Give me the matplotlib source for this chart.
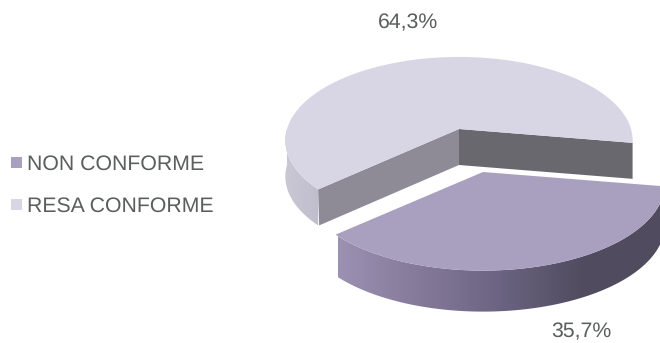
import numpy as np
import matplotlib
matplotlib.use("Agg")
import matplotlib.pyplot as plt
from matplotlib.colors import LinearSegmentedColormap
from matplotlib.patches import Polygon, Rectangle

categories = ["NON CONFORME", "RESA CONFORME"]
values = [35.7, 64.3]

plt.rcParams["font.family"] = ["Liberation Sans", "DejaVu Sans"]
plt.rcParams["text.hinting"] = "none"
TEXT = "#5a5e5d"
K = 0.138  # fake perspective: near side of the disc is drawn larger


def rim(theta_deg, cx, cy, rx, ry, dz=0):
    t = np.radians(theta_deg)
    w = 1 + K * np.sin(t)
    return np.column_stack([cx + rx * np.cos(t) / w, cy - ry * np.sin(t) / w + dz])


def gradient_fill(ax, poly, colors, x0, x1, y0, y1, zorder):
    cmap = LinearSegmentedColormap.from_list("wall", colors)
    img = ax.imshow(np.linspace(0, 1, 256)[None, :], cmap=cmap, extent=(x0, x1, y1, y0),
                    aspect="auto", zorder=zorder)
    patch = Polygon(poly, closed=True, transform=ax.transData, fc="none", ec="none")
    ax.add_patch(patch)
    img.set_clip_path(patch)


fig = plt.figure(figsize=(6.6, 3.43), dpi=100)
ax = fig.add_axes([0, 0, 1, 1])

start = -9.5
split = start - 360 * values[0] / sum(values)  # left edge of the pulled-out slice

# back slice
cx, cy, rx, ry, depth = 459, 129, 172, 82, 36
angles = np.linspace(start, split + 360, 240)
top = rim(angles, cx, cy, rx, ry)
right_corner = rim(start, cx, cy, rx, ry)[0]
left_corner = rim(split, cx, cy, rx, ry)[0]

side = np.linspace(180, split + 360, 60)
gradient_fill(ax, np.vstack([rim(side, cx, cy, rx, ry), rim(side[::-1], cx, cy, rx, ry, depth)]),
              ["#cbc8d6", "#bfbccb"], 285, 322, 130, 225, 1)
ax.add_patch(Polygon([(cx, cy), left_corner, left_corner + (1, depth), (cx, cy + depth)],
                     fc="#8e8b96", ec="none", zorder=2))
ax.add_patch(Polygon([(cx, cy), right_corner, right_corner + (0, depth), (cx, cy + depth)],
                     fc="#6a686f", ec="none", zorder=2))
ax.add_patch(Polygon(np.vstack([[(cx, cy)], top]), fc="#d8d6e4", ec="none", zorder=3))

# pulled-out slice
cx, cy, rx, ry, depth = 483, 172, 180, 85, 41
angles = np.linspace(split, start, 200)
top = rim(angles, cx, cy, rx, ry)
gradient_fill(ax, np.vstack([top, rim(angles[::-1], cx, cy, rx, ry, depth)]),
              ["#9c91b2", "#85799a", "#6a6380", "#504b5e", "#504b5e"], 338, 668, 180, 320, 4)
ax.add_patch(Polygon(np.vstack([[(cx, cy)], top]), fc="#a99fbe", ec="none", zorder=5))

# percent labels
ax.text(408, 23, f"{values[1]:.1f}%".replace(".", ","), fontsize=15.3, color=TEXT,
        ha="center", va="center", zorder=6)
ax.text(581, 332, f"{values[0]:.1f}%".replace(".", ","), fontsize=15.3, color=TEXT,
        ha="center", va="center", zorder=6)

# legend
for name, color, y in zip(categories, ["#a99fbe", "#d8d6e4"], [163, 205]):
    ax.add_patch(Rectangle((11, y - 6), 11, 11, fc=color, ec="none", zorder=6))
    ax.text(27, y + 1, name, fontsize=15.3, color=TEXT, ha="left", va="center", zorder=6)

ax.set_xlim(0, 660)
ax.set_ylim(343, 0)
ax.axis("off")
fig.savefig("out.png", dpi=100)
